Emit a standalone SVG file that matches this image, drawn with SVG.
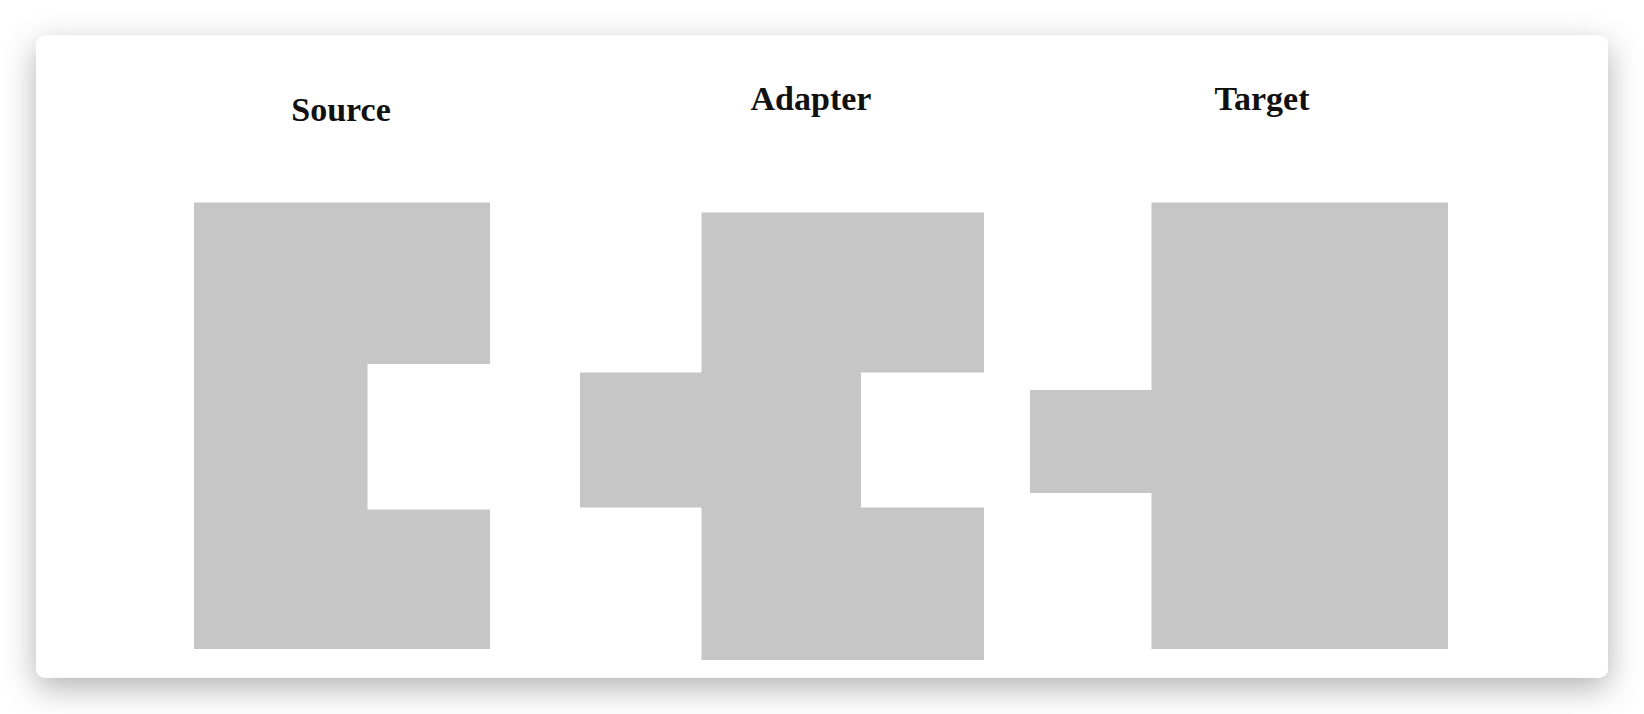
<svg xmlns="http://www.w3.org/2000/svg" width="1644" height="714" viewBox="0 0 1644 714">
  <style>
    .shape { fill: #c6c6c6; }
    .label { font-family: "Liberation Serif", "Times New Roman", serif; font-weight: bold; font-size: 34px; fill: #111111; text-anchor: middle; }
  </style>
  <defs>
    <filter id="cardShadow" x="-10%" y="-20%" width="120%" height="150%">
      <feDropShadow dx="0" dy="10" stdDeviation="16" flood-color="#000000" flood-opacity="0.3"/>
    </filter>
  </defs>
  <rect x="0" y="0" width="1644" height="714" fill="#ffffff"/>
  <rect id="card" x="36" y="35.7" width="1572" height="642" rx="9" ry="9" fill="#ffffff" filter="url(#cardShadow)"/>

  <g id="source">
    <path class="shape" d="M194 202.5 H490 V364 H367.5 V509.5 H490 V649 H194 Z"/>
    <text class="label" x="341" y="121">Source</text>
  </g>

  <g id="adapter">
    <path class="shape" d="M701.5 212.5 H984 V372.5 H861 V507.5 H984 V660 H701.5 V507.5 H580 V372.5 H701.5 Z"/>
    <text class="label" x="811" y="110">Adapter</text>
  </g>

  <g id="target">
    <path class="shape" d="M1151.5 202.5 H1448 V649 H1151.5 V493 H1030 V390 H1151.5 Z"/>
    <text class="label" x="1262" y="110">Target</text>
  </g>

  <g id="connectors"></g>
</svg>
